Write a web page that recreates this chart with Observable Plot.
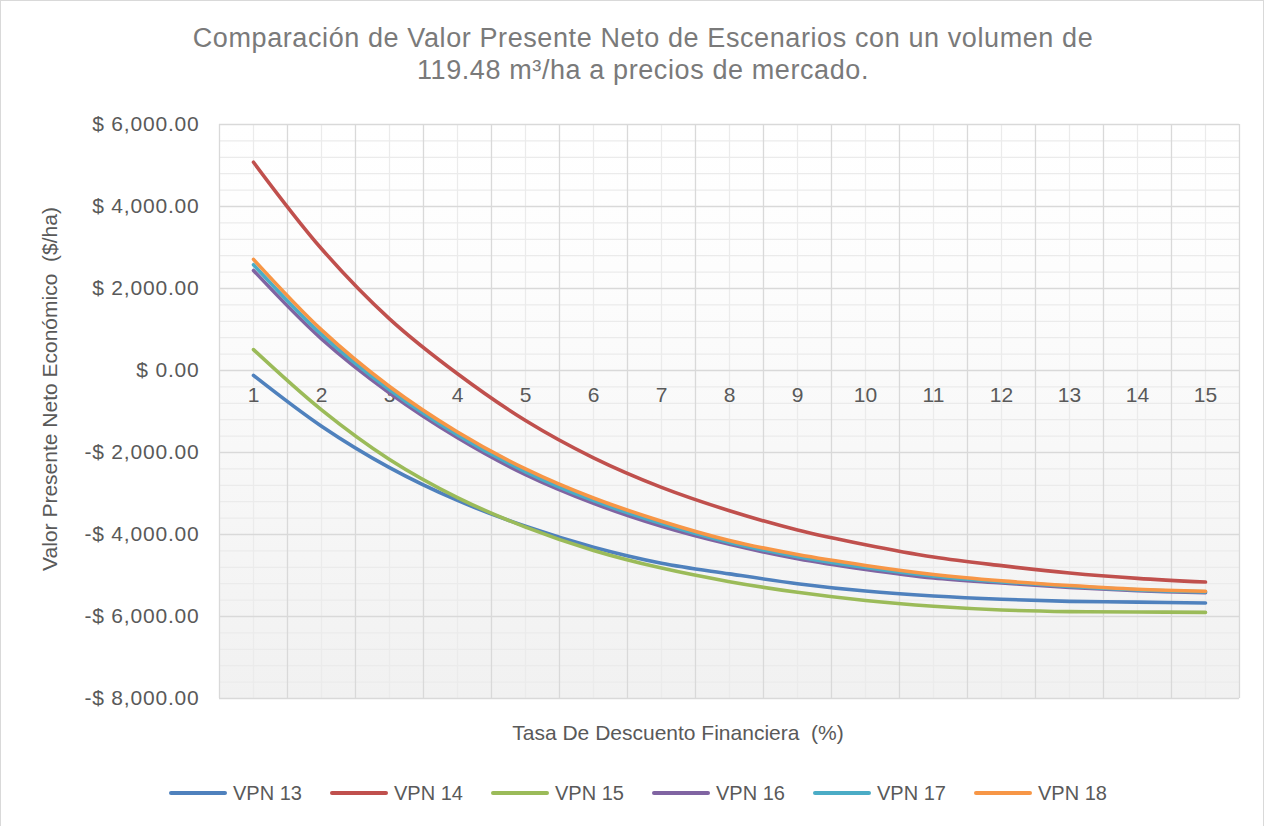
<!DOCTYPE html>
<html>
<head>
<meta charset="utf-8">
<script src="https://cdn.jsdelivr.net/npm/d3@7"></script>
<script src="https://cdn.jsdelivr.net/npm/@observablehq/plot@0.6"></script>
<style>
  html, body { margin: 0; padding: 0; background: #ffffff; }
  #wrap { position: relative; width: 1268px; height: 826px; overflow: hidden; font-family: "Liberation Sans", Arial, sans-serif; }
  #border { position: absolute; left: 0; top: 0; width: 1264px; height: 830px; border: 1.5px solid #d9d9d9; box-sizing: border-box; }
  #title { position: absolute; left: 0; top: 22px; width: 1286px; text-align: center; font-size: 27px; letter-spacing: 0.6px; line-height: 32px; color: #7a7a7a; }
  #ytitle { position: absolute; left: 50px; top: 389px; transform: translate(-50%, -50%) rotate(-90deg); white-space: nowrap; font-size: 21px; color: #595959; }
  #xtitle { position: absolute; left: 678px; top: 733px; transform: translate(-50%, -50%); white-space: nowrap; font-size: 21px; color: #595959; }
  #chart { position: absolute; left: 0; top: 100px; }
  #legend { position: absolute; left: 169px; top: 781px; display: flex; }
  .item { display: flex; align-items: center; width: 161px; height: 24px; }
  .sw { width: 58px; height: 4px; border-radius: 2px; }
  .lab { margin-left: 6px; font-size: 20px; color: #595959; white-space: nowrap; }
</style>
</head>
<body>
<div id="wrap">
  <div id="border"></div>
  <div id="title">Comparación de Valor Presente Neto de Escenarios con un volumen de<br>119.48 m³/ha a precios de mercado.</div>
  <div id="chart"></div>
  <div id="ytitle">Valor Presente Neto Económico&nbsp; ($/ha)</div>
  <div id="xtitle">Tasa De Descuento Financiera&nbsp; (%)</div>
  <div id="legend"></div>
</div>
<script>
// ---- data ----
const rates = [1, 2, 3, 4, 5, 6, 7, 8, 9, 10, 11, 12, 13, 14, 15];
const seriesNames = ["VPN 13", "VPN 14", "VPN 15", "VPN 16", "VPN 17", "VPN 18"];
const seriesColors = ["#4F81BD", "#C0504D", "#9BBB59", "#8064A2", "#4BACC6", "#F79646"];
const vpn13 = [-120, -1360, -2370, -3170, -3800, -4310, -4700, -4960, -5200, -5380, -5500, -5580, -5630, -5650, -5670];
const vpn14 = [5080, 2970, 1260, -80, -1220, -2130, -2850, -3420, -3890, -4250, -4550, -4760, -4940, -5070, -5160];
const vpn15 = [510, -960, -2170, -3100, -3820, -4390, -4820, -5150, -5410, -5610, -5750, -5840, -5880, -5890, -5900];
const vpn16 = [2440, 770, -550, -1640, -2540, -3240, -3800, -4240, -4590, -4850, -5060, -5180, -5290, -5370, -5420];
const vpn17 = [2580, 880, -470, -1570, -2470, -3175, -3735, -4195, -4540, -4805, -5015, -5155, -5265, -5350, -5400];
const vpn18 = [2710, 990, -390, -1500, -2400, -3110, -3675, -4145, -4490, -4755, -4975, -5130, -5245, -5335, -5385];
const yTicks = [6000, 4000, 2000, 0, -2000, -4000, -6000, -8000];
const yMinor = d3.range(-8000, 6001, 400);
const xTicks = rates;
const xBounds = d3.range(0.5, 15.6, 1);

const allSeries = [vpn13, vpn14, vpn15, vpn16, vpn17, vpn18];
const table = [];
seriesNames.forEach((name, i) => {
  rates.forEach((r, j) => table.push({series: name, rate: r, value: allSeries[i][j]}));
});

const fmt = d3.format(",.2f");
const yFmt = v => (v < 0 ? "-" : "") + "$ " + fmt(Math.abs(v));

const svg = Plot.plot({
  width: 1268,
  height: 660,
  marginTop: 24,
  marginBottom: 62,
  marginLeft: 219,
  marginRight: 29,
  style: {fontFamily: "'Liberation Sans', Arial, sans-serif", background: "transparent", overflow: "visible"},
  x: {domain: [0.5, 15.5], axis: null},
  y: {domain: [-8000, 6000], axis: null},
  color: {domain: seriesNames, range: seriesColors},
  marks: [
    Plot.frame({fill: "#ffffff", stroke: null}),
    Plot.ruleY(yMinor, {stroke: "#ebebeb", strokeWidth: 1.2}),
    Plot.ruleX(xTicks, {stroke: "#ebebeb", strokeWidth: 1.2}),
    Plot.ruleY(yTicks, {stroke: "#d9d9d9", strokeWidth: 1.3}),
    Plot.ruleX(xBounds, {stroke: "#d9d9d9", strokeWidth: 1.3}),
    Plot.text(xTicks, {x: d => d, y: 0, dy: 25, text: d => String(d), fontSize: 21, fill: "#595959"}),
    Plot.text(yTicks, {y: d => d, frameAnchor: "left", dx: -20, textAnchor: "end", text: yFmt, fontSize: 21, fill: "#595959"}),
    Plot.line(table, {x: "rate", y: "value", z: "series", stroke: "series", curve: "catmull-rom", strokeWidth: 3.6, strokeLinecap: "round", strokeLinejoin: "round"})
  ]
});

// gradient background for the plot area
const ns = "http://www.w3.org/2000/svg";
const defs = document.createElementNS(ns, "defs");
defs.innerHTML = '<linearGradient id="bgGrad" x1="0" y1="0" x2="0" y2="1"><stop offset="0" stop-color="#ffffff"/><stop offset="0.25" stop-color="#fdfdfd"/><stop offset="1" stop-color="#f1f1f1"/></linearGradient>';
svg.insertBefore(defs, svg.firstChild);
d3.select(svg).selectAll('[aria-label="frame"]').each(function() {
  if (this.tagName.toLowerCase() === "rect") this.setAttribute("fill", "url(#bgGrad)");
  d3.select(this).selectAll("rect").attr("fill", "url(#bgGrad)");
});
d3.select(svg).selectAll('[aria-label="text"]').filter((d, i) => i === 1).attr("letter-spacing", "0.8px");

document.getElementById("chart").appendChild(svg);

// legend
const legend = document.getElementById("legend");
seriesNames.forEach((name, i) => {
  const item = document.createElement("div");
  item.className = "item";
  item.innerHTML = `<div class="sw" style="background:${seriesColors[i]}"></div><div class="lab">${name}</div>`;
  legend.appendChild(item);
});
</script>
</body>
</html>
